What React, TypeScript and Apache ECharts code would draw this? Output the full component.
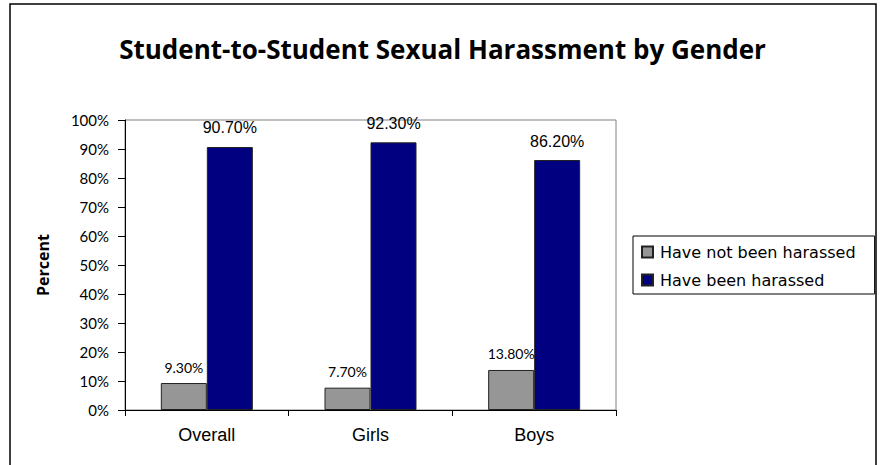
import React, { useEffect, useRef } from "react";
import * as echarts from "echarts";

const categories = ["Overall", "Girls", "Boys"];
const notHarassed = [9.3, 7.7, 13.8];
const harassed = [90.7, 92.3, 86.2];
const seriesNames = ["Have not been harassed", "Have been harassed"];
const titleText = "Student-to-Student Sexual Harassment by Gender";
const yAxisName = "Percent";

export default function App() {
  const ref = useRef<HTMLDivElement>(null);
  useEffect(() => {
    const chart = echarts.init(ref.current!, null, { renderer: "svg" });
    const fmt = (p: any) => p.value.toFixed(2) + "%";
    chart.setOption({
      animation: false,
      backgroundColor: "#fff",
      title: {
        text: titleText,
        left: "center",
        top: 31,
        textStyle: {
          fontFamily: "Open Sans, sans-serif",
          fontWeight: "bold",
          fontSize: 26,
          color: "#000",
        },
      },
      graphic: [
        {
          type: "rect",
          shape: { x: 10, y: 4, width: 866, height: 490 },
          style: { fill: "none", stroke: "#000", lineWidth: 1.5 },
          silent: true,
        },
      ],
      legend: {
        orient: "vertical",
        left: 633,
        top: 236,
        borderColor: "#000",
        borderWidth: 1,
        padding: [8, 19, 6, 8],
        itemWidth: 11,
        itemHeight: 11,
        itemGap: 12,
        icon: "rect",
        textStyle: {
          fontFamily: "DejaVu Sans, sans-serif",
          fontSize: 16,
          color: "#000",
          padding: [0, 0, 0, 2],
        },
        data: seriesNames,
      },
      grid: {
        left: 125,
        top: 120,
        right: 269,
        bottom: 55,
        show: true,
        borderColor: "#808080",
        borderWidth: 1,
        containLabel: false,
      },
      xAxis: {
        type: "category",
        data: categories,
        axisLine: { lineStyle: { color: "#000", width: 1 } },
        axisTick: { show: true, alignWithLabel: false, length: 6, lineStyle: { color: "#000" } },
        axisLabel: {
          margin: 16,
          color: "#000",
          fontFamily: "Liberation Sans, Arial, sans-serif",
          fontSize: 18,
        },
      },
      yAxis: {
        type: "value",
        min: 0,
        max: 100,
        interval: 10,
        name: yAxisName,
        nameLocation: "middle",
        nameGap: 74,
        nameRotate: 90,
        nameTextStyle: {
          fontFamily: "Open Sans, sans-serif",
          fontWeight: "bold",
          fontSize: 16,
          color: "#000",
        },
        axisLine: { show: true, lineStyle: { color: "#000", width: 1 } },
        axisTick: { show: true, length: 7, lineStyle: { color: "#000" } },
        splitLine: { show: false },
        axisLabel: {
          formatter: "{value}%",
          margin: 16,
          color: "#000",
          fontFamily: "Lato, sans-serif",
          fontSize: 15,
        },
      },
      series: [
        {
          name: seriesNames[0],
          type: "bar",
          data: notHarassed,
          barWidth: 46,
          barGap: "0%",
          itemStyle: { color: "#969696", borderColor: "#222", borderWidth: 1 },
          label: {
            show: true,
            position: "top",
            distance: 9,
            color: "#000",
            fontFamily: "Lato, sans-serif",
            fontSize: 14,
            formatter: fmt,
          },
        },
        {
          name: seriesNames[1],
          type: "bar",
          data: harassed,
          barWidth: 46,
          barGap: "0%",
          itemStyle: { color: "#000080", borderColor: "#222", borderWidth: 1 },
          label: {
            show: true,
            position: "top",
            distance: 11,
            color: "#000",
            fontFamily: "Liberation Sans, Arial, sans-serif",
            fontSize: 16,
            formatter: fmt,
          },
        },
      ],
    });
    return () => chart.dispose();
  }, []);
  return (
    <div
      ref={ref}
      style={{ position: "fixed", left: 0, top: 0, width: 885, height: 465 }}
    />
  );
}
